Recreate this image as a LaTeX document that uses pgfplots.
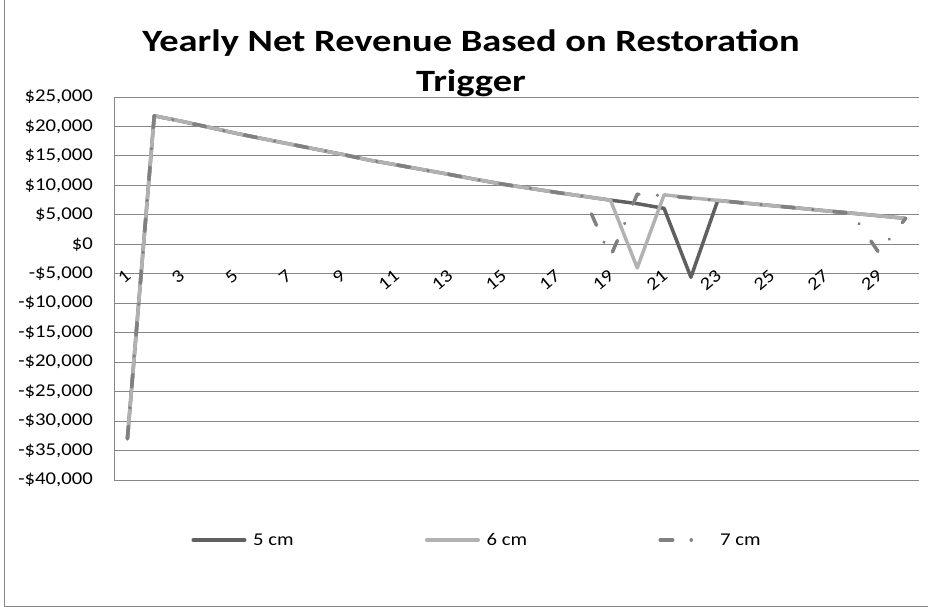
\documentclass[border=0pt]{standalone}
\usepackage{fontspec}
\setmainfont{Carlito}[FakeStretch=1.15]
\newfontfamily\titlefont{Carlito}[FakeStretch=1.24]
\usepackage{pgfplots}
\pgfplotsset{compat=1.18}
\definecolor{gridgray}{RGB}{134,134,134}
\definecolor{cfive}{RGB}{96,96,96}
\definecolor{csix}{RGB}{178,178,178}
\definecolor{cseven}{RGB}{128,128,128}
\newcommand{\smallfont}{\fontsize{18bp}{21bp}\selectfont}
\begin{document}
\begin{tikzpicture}
\begin{axis}[
  at={(0,0)}, anchor=south west,
  width=805bp, height=383bp, scale only axis,
  set layers,
  clip=false,
  xmin=0.5, xmax=30.5, ymin=-40000, ymax=25000,
  axis x line=middle, axis y line=left,
  axis line style={-, gridgray, line width=1bp},
  x axis line style={line width=1.4bp},
  hide obscured x ticks=false, hide obscured y ticks=false,
  scaled y ticks=false,
  major tick length=0pt, tick style={draw=none},
  ymajorgrids, grid style={gridgray, line width=1bp},
  ytick={-40000,-35000,-30000,-25000,-20000,-15000,-10000,-5000,0,5000,10000,15000,20000,25000},
  yticklabels={{-\$40,000},{-\$35,000},{-\$30,000},{-\$25,000},{-\$20,000},{-\$15,000},{-\$10,000},{-\$5,000},{\$0},{\$5,000},{\$10,000},{\$15,000},{\$20,000},{\$25,000}},
  yticklabel style={font=\smallfont, anchor=east, inner sep=0pt, xshift=-21bp},
  xtick={1,3,5,7,9,11,13,15,17,19,21,23,25,27,29},
  xticklabels={1,3,5,7,9,11,13,15,17,19,21,23,25,27,29},
  xticklabel style={font=\smallfont, anchor=east, inner sep=0pt, xshift=1bp, yshift=-29bp, rotate=40},
  title={Yearly Net Revenue Based on Restoration\\Trigger},
  title style={align=center, font=\titlefont\bfseries\fontsize{31bp}{40bp}\selectfont, inner sep=0pt, at={(axis description cs:0.4435,1)}, anchor=south, yshift=-6bp},
  legend columns=3,
  legend style={at={(axis description cs:0.4495,-0.1567)}, anchor=center, draw=none, fill=none, font=\smallfont,
    inner sep=0pt, outer sep=0pt,
    nodes={inner sep=0pt, outer sep=0pt},
    /tikz/every odd column/.append style={column sep=6.75bp},
    /tikz/every even column/.append style={column sep=131.75bp}},
  legend cell align=left,
  legend image code/.code={\draw[#1] (0bp,0bp) -- (51.5bp,0bp);},
  every axis plot/.append style={line width=3.5bp, line cap=round, line join=round},
]
\addplot[cfive] coordinates {
(1,-33000) (2,21800) (3,20900) (4,19900) (5,18880) (6,17960) (7,17060) (8,16160) (9,15270) (10,14300)
(11,13500) (12,12680) (13,11860) (14,11000) (15,10200) (16,9500) (17,8800) (18,8150) (19,7500) (20,6900)
(21,6100) (22,-5600) (23,7450) (24,7000) (25,6580) (26,6150) (27,5700) (28,5280) (29,4850) (30,4400)};
\addlegendentry{\makebox[40bp][l]{5 cm}}
\addplot[csix] coordinates {
(1,-33000) (2,21800) (3,20900) (4,19900) (5,18880) (6,17960) (7,17060) (8,16160) (9,15270) (10,14300)
(11,13500) (12,12680) (13,11860) (14,11000) (15,10200) (16,9500) (17,8800) (18,8150) (19,7500) (20,-4000)
(21,8400) (22,7900) (23,7450) (24,7000) (25,6580) (26,6150) (27,5700) (28,5280) (29,4850) (30,4400)};
\addlegendentry{\makebox[40bp][l]{6 cm}}
\addplot[cseven, dash pattern=on 12.5bp off 18.5bp on 0.01bp off 21bp] coordinates {
(1,-33000) (2,21800) (3,20900) (4,19900) (5,18880) (6,17960) (7,17060) (8,16160) (9,15270) (10,14300)
(11,13500) (12,12680) (13,11860) (14,11000) (15,10200) (16,9500) (17,8800) (18,8150) (19,-2100) (20,8500)
(21,8250) (22,7850) (23,7450) (24,7000) (25,6580) (26,6150) (27,5700) (28,5280) (29,-1400) (30,4400)};
\addlegendentry{\makebox[40bp][l]{7 cm}}
\end{axis}
\draw[gridgray, line width=1bp] (-109.3bp,480bp) -- (-109.3bp,-126bp) -- (814bp,-126bp);
\pgfresetboundingbox
\useasboundingbox (-114bp,-127bp) rectangle (814bp,480bp);
\end{tikzpicture}
\end{document}
